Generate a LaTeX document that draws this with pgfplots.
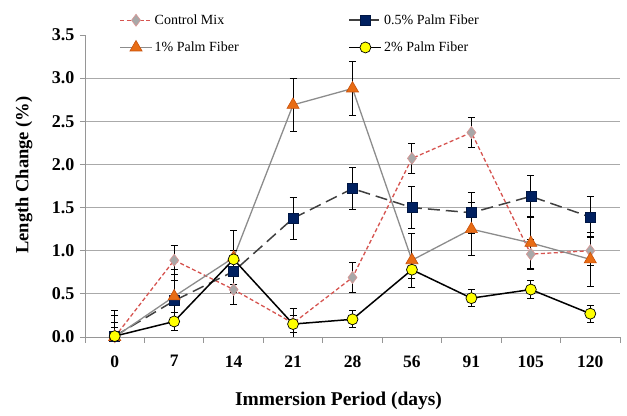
\documentclass[border=0pt]{standalone}
\usepackage{fontspec}
\setmainfont{Liberation Serif}
\usepackage{pgfplots}
\pgfplotsset{compat=1.18}
\definecolor{ctrl}{RGB}{214,84,80}
\definecolor{ctrlmk}{RGB}{168,168,168}
\definecolor{ctrledge}{RGB}{220,150,148}
\definecolor{halfline}{RGB}{64,64,64}
\definecolor{navy}{RGB}{0,32,96}
\definecolor{oneline}{RGB}{140,140,140}
\definecolor{orng}{RGB}{232,108,20}
\definecolor{orngedge}{RGB}{200,80,10}
\definecolor{ylw}{RGB}{255,255,0}
\definecolor{gridc}{RGB}{170,170,170}
\definecolor{axisc}{RGB}{150,150,150}
\begin{document}
\begin{tikzpicture}
\begin{axis}[
  scale only axis, width=535pt, height=302pt,
  xmin=-0.5, xmax=8.5, ymin=0, ymax=3.5,
  xtick={0,...,8}, xticklabels={0,7,14,21,28,56,91,105,120},
  minor xtick={-0.5,0.5,...,8.5},
  major x tick style={draw=none},
  minor tick length=6pt,
  ytick={0,0.5,...,3.0}, extra y ticks={3.5}, extra y tick style={grid=none},
  ymajorgrids, grid style={gridc, line width=0.9pt},
  axis x line*=bottom, axis y line*=left,
  axis line style={axisc, line width=0.9pt},
  every tick/.style={axisc, line width=0.9pt},
  tick align=outside, major tick length=5pt,
  yticklabel style={font=\fontsize{18}{18}\selectfont\bfseries, xshift=-2pt, /pgf/number format/.cd, fixed, fixed zerofill, precision=1, assume math mode=true},
  xticklabel style={font=\fontsize{17.5}{18}\selectfont\bfseries, yshift=-10pt, /pgf/number format/assume math mode=true},
  xlabel={Immersion Period (days)},
  ylabel={Length Change (\%)},
  xlabel style={at={(axis description cs:0.5,0)}, anchor=center, yshift=-64pt, xshift=-14pt, font=\fontsize{19.5}{20}\selectfont\bfseries},
  ylabel style={at={(axis description cs:0,0.5)}, anchor=center, xshift=11pt, yshift=61pt, font=\fontsize{18.5}{19}\selectfont\bfseries},
  legend columns=2,
  legend cell align=left,
  legend style={draw=none, fill=white, at={(rel axis cs:0.062,1.078)}, anchor=north west,
    font=\fontsize{14}{14}\selectfont, row sep=12pt, inner sep=1pt,
    /tikz/every even column/.append style={column sep=108pt}},
  legend image code/.code={\draw[mark repeat=2,mark phase=2] plot coordinates {(0pt,0pt) (16pt,0pt) (32pt,0pt)};},
  error bars/y dir=both, error bars/y explicit,
  error bars/error bar style={black, line width=0.9pt, solid},
  error bars/error mark options={rotate=90, mark size=3.5pt, black, line width=0.9pt, solid},
]
\coordinate (pa) at (rel axis cs:0,0);
\coordinate (pb) at (rel axis cs:1,1);
\addplot[ctrl, line width=1.3pt, dash pattern=on 4pt off 2.5pt, mark=diamond*, mark size=6pt, mark options={solid, fill=ctrlmk, draw=ctrledge, line width=0.6pt}]
coordinates {(0,0) +- (0,0.17) (1,0.89) +- (0,0.17) (2,0.55) +- (0,0.17) (3,0.16) +- (0,0.17) (4,0.69) +- (0,0.17) (5,2.07) +- (0,0.17) (6,2.37) +- (0,0.17) (7,0.96) +- (0,0.17) (8,1.00) +- (0,0.17)};
\addlegendentry{Control Mix}
\addplot[halfline, line width=1.5pt, dash pattern=on 12pt off 6pt, mark=square*, mark size=5pt, mark options={solid, fill=navy, draw=navy!70!black, line width=0.6pt}]
coordinates {(0,0.01) +- (0,0.24) (1,0.42) +- (0,0.24) (2,0.76) +- (0,0.24) (3,1.375) +- (0,0.24) (4,1.72) +- (0,0.24) (5,1.50) +- (0,0.24) (6,1.44) +- (0,0.24) (7,1.63) +- (0,0.24) (8,1.39) +- (0,0.24)};
\addlegendentry{0.5\% Palm Fiber}
\addplot[oneline, line width=1.3pt, mark=triangle*, mark size=7pt, mark options={solid, fill=orng, draw=orngedge, line width=0.6pt}]
coordinates {(0,0) +- (0,0.31) (1,0.47) +- (0,0.31) (2,0.92) +- (0,0.31) (3,2.69) +- (0,0.31) (4,2.88) +- (0,0.31) (5,0.89) +- (0,0.31) (6,1.25) +- (0,0.31) (7,1.09) +- (0,0.31) (8,0.90) +- (0,0.31)};
\addlegendentry{1\% Palm Fiber}
\addplot[black, line width=1.5pt, mark=*, mark size=5.5pt, mark options={solid, fill=ylw, draw=black, line width=0.7pt}]
coordinates {(0,0.01) +- (0,0.1) (1,0.18) +- (0,0.1) (2,0.90) +- (0,0.1) (3,0.15) +- (0,0.1) (4,0.205) +- (0,0.1) (5,0.78) +- (0,0.1) (6,0.45) +- (0,0.1) (7,0.55) +- (0,0.1) (8,0.27) +- (0,0.1)};
\addlegendentry{2\% Palm Fiber}
\end{axis}
\pgfresetboundingbox
\path ([shift={(-85pt,-79pt)}]pa) rectangle ([shift={(7pt,35pt)}]pb);
\end{tikzpicture}
\end{document}
